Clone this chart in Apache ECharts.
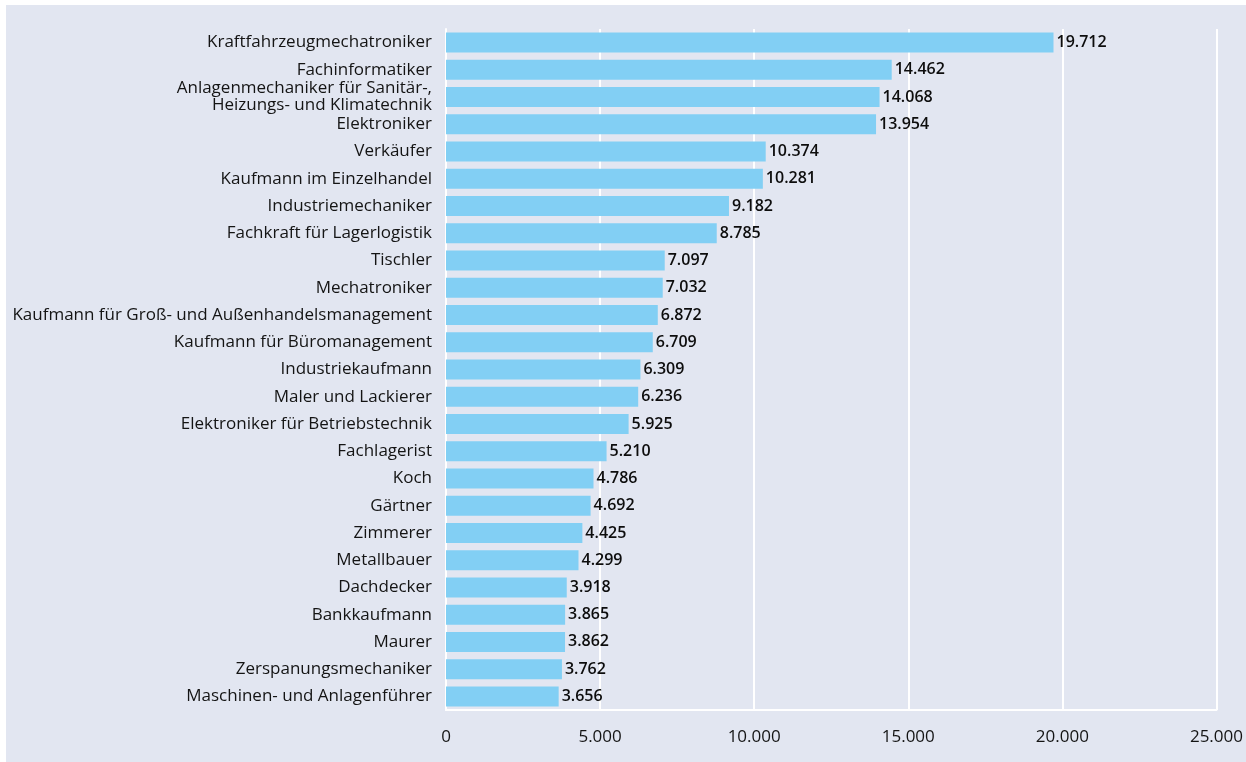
<!DOCTYPE html>
<html>
<head lang="de">
    <meta charset="UTF-8">
    <title>Ausbildungsberufe</title>
    <style>
        html, body{
            margin:0;
            padding:0;
            background:#fff;
        }
        #bar_chart{
            position:absolute;
            left:6px;
            top:5px;
            width:1240px;
            height:757px;
            background:#e2e6f1;
        }
    </style>
    <script src="https://cdn.jsdelivr.net/npm/echarts@6/dist/echarts.min.js"></script>
</head>
<body>
    <div id="bar_chart"></div>
    <script>
    // Berufe, von oben nach unten
    var berufe = [
        'Kraftfahrzeugmechatroniker',
        'Fachinformatiker',
        'Anlagenmechaniker für Sanitär-,\nHeizungs- und Klimatechnik',
        'Elektroniker',
        'Verkäufer',
        'Kaufmann im Einzelhandel',
        'Industriemechaniker',
        'Fachkraft für Lagerlogistik',
        'Tischler',
        'Mechatroniker',
        'Kaufmann für Groß- und Außenhandelsmanagement',
        'Kaufmann für Büromanagement',
        'Industriekaufmann',
        'Maler und Lackierer',
        'Elektroniker für Betriebstechnik',
        'Fachlagerist',
        'Koch',
        'Gärtner',
        'Zimmerer',
        'Metallbauer',
        'Dachdecker',
        'Bankkaufmann',
        'Maurer',
        'Zerspanungsmechaniker',
        'Maschinen- und Anlagenführer'
    ];
    var anzahl = [19712, 14462, 14068, 13954, 10374, 10281, 9182, 8785, 7097, 7032,
                  6872, 6709, 6309, 6236, 5925, 5210, 4786, 4692, 4425, 4299,
                  3918, 3865, 3862, 3762, 3656];
    var xMax = 25000;
    var xStep = 5000;

    function fmt(v){
        return String(v).replace(/\B(?=(\d{3})+(?!\d))/g, '.');
    }

    var chart = echarts.init(document.getElementById('bar_chart'));
    var option = {
        animation: false,
        textStyle: { fontFamily: 'Open Sans' },
        grid: {
            left: 440,
            right: 29,
            top: 24,
            bottom: 52
        },
        xAxis: {
            type: 'value',
            min: 0,
            max: xMax,
            interval: xStep,
            axisLine: { show: true, lineStyle: { color: '#ffffff', width: 2 } },
            axisTick: { show: false },
            splitLine: { show: true, lineStyle: { color: '#ffffff', width: 2 } },
            axisLabel: {
                color: '#141414',
                fontSize: 17,
                margin: 19,
                formatter: function(v){ return fmt(v); }
            }
        },
        yAxis: {
            type: 'category',
            data: berufe,
            inverse: true,
            axisLine: { show: true, lineStyle: { color: '#ffffff', width: 2 } },
            axisTick: { show: false },
            axisLabel: {
                color: '#141414',
                fontSize: 17,
                margin: 14,
                lineHeight: 17,
                align: 'right'
            }
        },
        series: [
            {
                type: 'bar',
                data: anzahl,
                barWidth: 20,
                itemStyle: { color: '#82cff4' },
                label: {
                    show: true,
                    position: 'right',
                    distance: 3,
                    color: '#0d0d0d',
                    fontSize: 16,
                    fontWeight: 600,
                    formatter: function(p){ return fmt(p.value); }
                }
            }
        ]
    };
    chart.setOption(option);
    </script>
</body>
</html>
